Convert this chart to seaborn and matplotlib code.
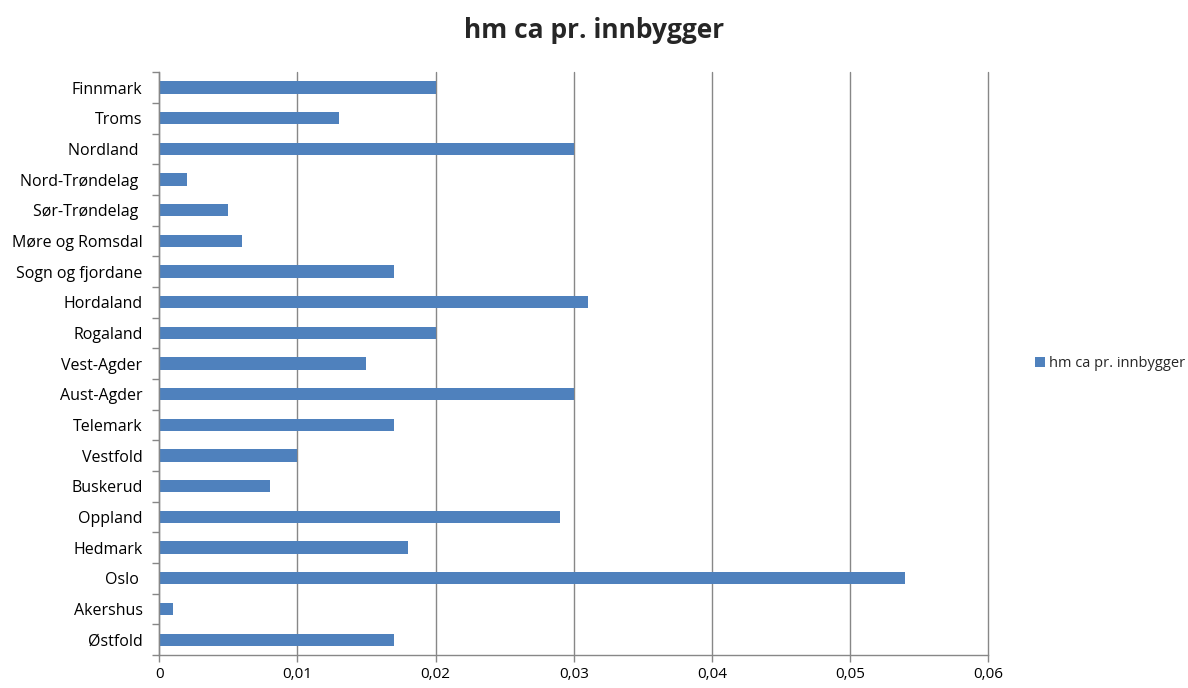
import pandas as pd
import matplotlib.pyplot as plt
import seaborn as sns
from matplotlib.ticker import FuncFormatter, FixedLocator

# Data
fylker = ['Finnmark', 'Troms', 'Nordland ', 'Nord-Trøndelag ', 'Sør-Trøndelag ',
          'Møre og Romsdal', 'Sogn og fjordane', 'Hordaland', 'Rogaland', 'Vest-Agder',
          'Aust-Agder', 'Telemark', 'Vestfold', 'Buskerud', 'Oppland', 'Hedmark',
          'Oslo ', 'Akershus', 'Østfold']
verdier = [0.020, 0.013, 0.030, 0.002, 0.005, 0.006, 0.017, 0.031, 0.020, 0.015,
           0.030, 0.017, 0.010, 0.008, 0.029, 0.018, 0.054, 0.001, 0.017]
serie = 'hm ca pr. innbygger'

df = pd.DataFrame({'fylke': fylker, 'verdi': verdier})

sns.set_style('white')
plt.rcParams['font.family'] = ['Open Sans', 'DejaVu Sans']

fig = plt.figure(figsize=(11.88, 6.88), dpi=100)
ax = fig.add_axes([0.134, 0.048, 0.698, 0.847])

sns.barplot(data=df, x='verdi', y='fylke', orient='h', color='#4F81BD',
            saturation=1, width=0.4, linewidth=0, label=serie, ax=ax)

ax.set_xlim(0, 0.06)
ax.set_ylim(len(fylker) - 0.5, -0.5)
ax.set_xticks([0, 0.01, 0.02, 0.03, 0.04, 0.05, 0.06])
ax.xaxis.set_major_formatter(FuncFormatter(lambda v, p: '0' if v == 0 else f'{v:.2f}'.replace('.', ',')))
ax.set_xlabel('')
ax.set_ylabel('')

# vertical gridlines
ax.grid(axis='x', color='#878787', linewidth=1)
ax.grid(axis='y', visible=False)
ax.set_axisbelow(True)
for gl in ax.get_xgridlines():
    gl.set_clip_on(False)

for s in ['top', 'right']:
    ax.spines[s].set_visible(False)
for s in ['left', 'bottom']:
    ax.spines[s].set_color('#878787')
    ax.spines[s].set_linewidth(1)

# category boundary ticks like Excel
ax.yaxis.set_minor_locator(FixedLocator([i - 0.5 for i in range(len(fylker) + 1)]))
ax.tick_params(axis='y', which='major', length=0, pad=12, labelsize=11.5, labelcolor='black')
ax.tick_params(axis='y', which='minor', length=5, color='#878787', width=1, left=True)
ax.tick_params(axis='x', which='major', length=5, color='#878787', width=1, bottom=True,
               labelsize=11, labelcolor='black', pad=4)

fig.suptitle(serie, fontsize=19, fontweight='bold', y=0.975)

ax.legend(loc='center left', bbox_to_anchor=(1.04, 0.5), frameon=False,
          fontsize=10.5, handlelength=0.7, handleheight=0.7, handletextpad=0.3)

fig.savefig('out.png', dpi=100)
